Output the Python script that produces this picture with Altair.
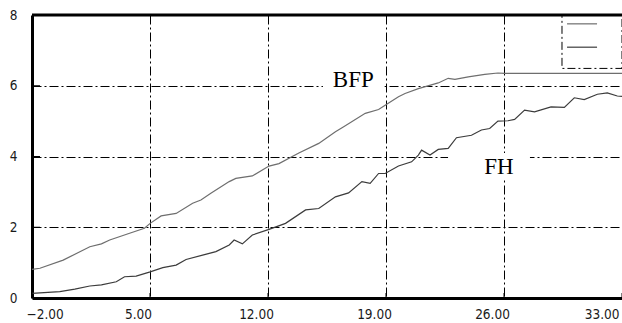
import altair as alt
import pandas as pd

# ---- data ----
bfp_x = [-2.0, -1.53, -0.15, 1.43, 2.12, 2.61, 3.79, 4.67, 5.01, 5.66, 6.55, 7.53, 8.02, 8.61,
         9.70, 10.09, 11.07, 12.06, 12.65, 13.83, 15.01, 16.00, 16.49, 17.77, 18.56, 18.95,
         19.74, 20.13, 20.92, 22.10, 22.69, 23.09, 23.88, 24.86, 25.64, 26.04, 33.0]
bfp_y = [0.81, 0.84, 1.07, 1.45, 1.53, 1.64, 1.83, 1.97, 2.11, 2.32, 2.39, 2.68, 2.77, 2.96,
         3.29, 3.38, 3.45, 3.73, 3.80, 4.10, 4.37, 4.70, 4.84, 5.22, 5.33, 5.45,
         5.69, 5.78, 5.92, 6.08, 6.21, 6.18, 6.25, 6.32, 6.36, 6.35, 6.35]

fh_x = [-2.0, -0.35, 0.54, 1.43, 2.12, 3.00, 3.49, 4.18, 5.01, 5.76, 6.55, 7.14, 8.12, 8.91,
        9.70, 9.99, 10.48, 11.07, 12.06, 13.04, 14.23, 15.01, 16.00, 16.78, 17.57, 18.06,
        18.56, 18.95, 19.74, 20.52, 20.92, 21.11, 21.61, 22.10, 22.69, 23.18, 24.07, 24.66,
        25.15, 25.64, 26.23, 26.63, 27.22, 27.81, 28.79, 29.58, 30.17, 30.76, 31.54, 32.13,
        32.72, 33.0]
fh_y = [0.13, 0.18, 0.25, 0.34, 0.37, 0.46, 0.60, 0.62, 0.74, 0.86, 0.93, 1.09, 1.21, 1.31,
        1.50, 1.64, 1.53, 1.78, 1.94, 2.11, 2.49, 2.53, 2.86, 2.97, 3.29, 3.24,
        3.52, 3.52, 3.73, 3.85, 4.04, 4.18, 4.04, 4.20, 4.23, 4.53, 4.60, 4.75,
        4.79, 5.00, 5.01, 5.05, 5.31, 5.26, 5.40, 5.39, 5.66, 5.61, 5.76, 5.80,
        5.71, 5.70]

series_names = ["BFP", "FH"]
series_colors = ["#6e6e6e", "#3c3c3c"]
x_ticks = [-2, 5, 12, 19, 26, 33]
y_ticks = [0, 2, 4, 6, 8]
x_domain = [-2, 33]
y_domain = [0, 8]

# annotation labels (data coordinates)
label_text = ["BFP", "FH"]
label_x = [17.06, 25.70]
label_y = [6.16, 3.71]
# white backgrounds behind the labels
label_box_x = [15.26, 22.68]
label_box_x2 = [18.9, 27.54]
label_box_y = [5.82, 3.34]
label_box_y2 = [6.50, 4.10]

# legend box (data coordinates)
legend_box = {"x": 29.44, "x2": 33.0, "y": 6.49, "y2": 8.0}
legend_line_x = [29.74, 29.74]
legend_line_x2 = [31.52, 31.52]
legend_line_y = [7.75, 7.09]

# ---- build tables ----
lines_df = pd.concat([
    pd.DataFrame({"x": bfp_x, "y": bfp_y, "series": "BFP", "order": range(len(bfp_x))}),
    pd.DataFrame({"x": fh_x, "y": fh_y, "series": "FH", "order": range(len(fh_x))}),
])
labels_df = pd.DataFrame({"text": label_text, "x": label_x, "y": label_y})
boxes_df = pd.DataFrame({"x": label_box_x, "x2": label_box_x2, "y": label_box_y, "y2": label_box_y2})
legend_df = pd.DataFrame([legend_box])
legend_lines_df = pd.DataFrame({"x": legend_line_x, "x2": legend_line_x2, "y": legend_line_y,
                                "series": series_names})
yticks_df = pd.DataFrame({"x": [x_domain[0]] * len(y_ticks), "y": y_ticks})
xticks_df = pd.DataFrame({"x": x_ticks, "y": [y_domain[0]] * len(x_ticks)})
top_df = pd.DataFrame({"x": [x_domain[0]], "x2": [x_domain[1]], "y": [y_domain[1]]})

FONT = "DejaVu Sans Condensed, DejaVu Sans, Liberation Sans"
GRID_DASH = [9, 3, 2, 3]

xscale = alt.Scale(domain=x_domain, nice=False, zero=False)
yscale = alt.Scale(domain=y_domain, nice=False, zero=False)

xaxis = alt.Axis(
    values=x_ticks, format=".2f", title=None, grid=True, gridDash=GRID_DASH,
    gridColor="#000000", gridWidth=1, gridOpacity=1, ticks=False,
    domainColor="#000000", domainWidth=3, labelPadding=9,
    labelFont=FONT, labelFontSize=13.5, labelColor="#1a1a1a",
    labelAlign={"condition": [{"test": "datum.value <= -2", "value": "left"},
                              {"test": "datum.value >= 33", "value": "right"}],
                "value": "center"},
    labelOffset={"condition": [{"test": "datum.value <= -2", "value": -6},
                               {"test": "datum.value >= 33", "value": -3}],
                 "value": -12},
    labelOverlap=False,
)
yaxis = alt.Axis(
    values=y_ticks, format="d", title=None, grid=True, gridDash=GRID_DASH,
    gridColor="#000000", gridWidth=1, gridOpacity=1, ticks=False,
    domainColor="#000000", domainWidth=3, labelPadding=15,
    labelFont=FONT, labelFontSize=13.5, labelColor="#1a1a1a", labelOverlap=False,
)

color_scale = alt.Scale(domain=series_names, range=series_colors)

base_lines = alt.Chart(lines_df).mark_line(strokeWidth=1.2, clip=True).encode(
    x=alt.X("x:Q", scale=xscale, axis=xaxis),
    y=alt.Y("y:Q", scale=yscale, axis=yaxis),
    color=alt.Color("series:N", scale=color_scale, legend=None),
    order="order:O",
)

boxes = alt.Chart(boxes_df).mark_rect(color="white", clip=True).encode(
    x="x:Q", x2="x2", y="y:Q", y2="y2")

labels = alt.Chart(labels_df).mark_text(
    font="Liberation Serif", fontSize=23, color="#000000", align="center", baseline="middle"
).encode(x="x:Q", y="y:Q", text="text:N")

yticks = alt.Chart(yticks_df).mark_tick(
    orient="horizontal", size=16, thickness=1, color="#000000", clip=True, opacity=1
).encode(x="x:Q", y="y:Q")
xticks = alt.Chart(xticks_df).mark_tick(
    orient="vertical", size=10, thickness=1, color="#000000", clip=True, opacity=1
).encode(x="x:Q", y="y:Q")

top_rule = alt.Chart(top_df).mark_rule(color="#000000", strokeWidth=3).encode(
    x="x:Q", x2="x2", y="y:Q")

legend_rect = alt.Chart(legend_df).mark_rect(
    fill="white", stroke="#000000", strokeWidth=1, strokeDash=[8, 3, 2, 3], clip=True
).encode(x="x:Q", x2="x2", y="y:Q", y2="y2")

legend_lines = alt.Chart(legend_lines_df).mark_rule(strokeWidth=1.2).encode(
    x="x:Q", x2="x2", y="y:Q",
    color=alt.Color("series:N", scale=color_scale, legend=None))

chart = alt.layer(
    base_lines, boxes, labels, yticks, xticks, legend_rect, legend_lines, top_rule
).properties(
    width=590, height=283,
    autosize=alt.AutoSizeParams(type="none"),
    padding={"left": 32, "top": 15, "right": 0, "bottom": 25},
    background="white",
).configure_view(stroke=None)

chart.save("out.html", embed_options={"renderer": "svg", "actions": False})
